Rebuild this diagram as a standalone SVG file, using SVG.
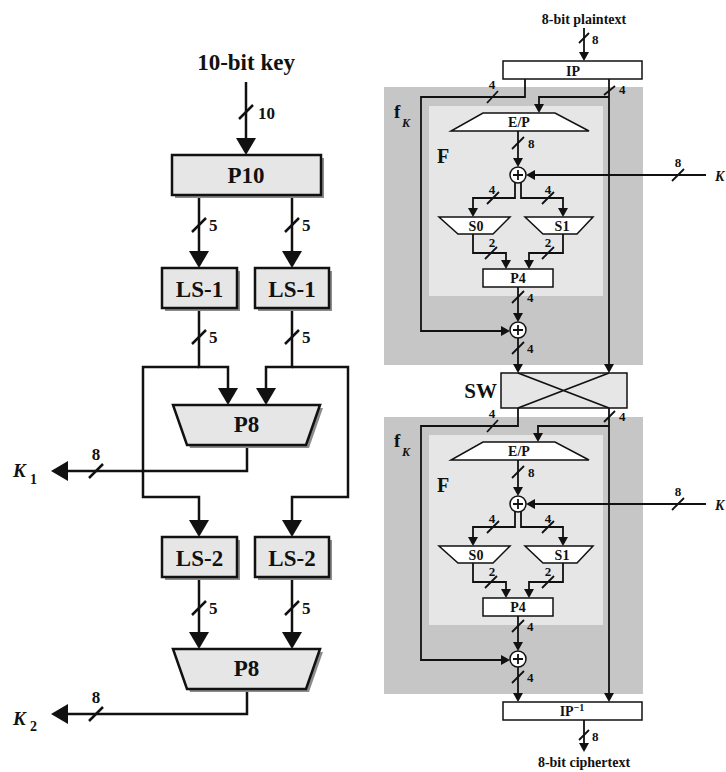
<svg xmlns="http://www.w3.org/2000/svg" width="726" height="772" viewBox="0 0 726 772">
<style>
text{font-family:"Liberation Serif","Times New Roman",serif;font-weight:bold;fill:#111}
.lbox{fill:#e6e6e6;stroke:#111;stroke-width:2.5}
.shadow{fill:#8c8c8c}
.lw{fill:none;stroke:#111;stroke-width:2.5}
.sw{fill:none;stroke:#111;stroke-width:1.8}
.wbox{fill:#fff;stroke:#111;stroke-width:1.5}
.gbox{fill:#e6e6e6;stroke:#111;stroke-width:1.5}
.outer{fill:#c6c6c6}
.inner{fill:#e6e6e6}
.al{marker-end:url(#arrL)}
.as{marker-end:url(#arrS)}
.big{font-size:23px}
.lab{font-size:17px}
.sm{font-size:13px}
.bx{font-size:14px}
.it{font-style:italic}
</style>
<defs>
<marker id="arrL" markerUnits="userSpaceOnUse" markerWidth="17" markerHeight="20" refX="13" refY="10" orient="auto" viewBox="0 0 17 20"><path d="M0,0 L17,10 L0,20 z" fill="#111"/></marker>
<marker id="arrS" markerUnits="userSpaceOnUse" markerWidth="9" markerHeight="10" refX="6" refY="5" orient="auto" viewBox="0 0 9 10"><path d="M0,0 L9,5 L0,10 z" fill="#111"/></marker>
</defs>

<!-- Right side background containers -->
<g id="fK1">
<rect class="outer" x="384" y="87" width="259" height="278"/>
<rect class="inner" x="429" y="106" width="174" height="190"/>
<text x="394" y="118" font-size="19">f</text><text x="402" y="127" class="it" font-size="12">K</text>
<text x="437" y="163" font-size="20">F</text>
</g>
<g id="fK2" transform="translate(0,329)">
<rect class="outer" x="384" y="88" width="259" height="277"/>
<rect class="inner" x="429" y="106" width="174" height="190"/>
<text x="394" y="118" font-size="19">f</text><text x="402" y="127" class="it" font-size="12">K</text>
<text x="437" y="163" font-size="20">F</text>
</g>

<!-- Connectors -->
<g id="connectors">
<!-- left side -->
<path class="lw al" d="M246,82 V151"/>
<path class="lw" d="M239,119 L253,105"/>
<text x="258" y="119" class="lab">10</text>
<path class="lw al" d="M199,195 V264"/>
<path class="lw al" d="M292,195 V264"/>
<path class="lw" d="M192,232 L206,218 M285,232 L299,218"/>
<text x="209" y="231" class="lab">5</text><text x="302" y="231" class="lab">5</text>
<path class="lw al" d="M199,308 V367 H228 V401"/>
<path class="lw al" d="M199,367 H143 V497 H199 V533"/>
<path class="lw al" d="M292,308 V367 H266 V401"/>
<path class="lw al" d="M292,367 H348 V497 H292 V533"/>
<path class="lw" d="M192,344 L206,330 M285,344 L299,330"/>
<text x="209" y="343" class="lab">5</text><text x="302" y="343" class="lab">5</text>
<path class="lw al" d="M247,445 V471 H55"/>
<path class="lw" d="M89,478 L103,464"/>
<text x="96" y="460" class="lab" text-anchor="middle">8</text>
<path class="lw al" d="M199,577 V645"/>
<path class="lw al" d="M292,577 V645"/>
<path class="lw" d="M192,615 L206,601 M285,615 L299,601"/>
<text x="209" y="614" class="lab">5</text><text x="302" y="614" class="lab">5</text>
<path class="lw al" d="M247,689 V714 H55"/>
<path class="lw" d="M89,721 L103,707"/>
<text x="96" y="703" class="lab" text-anchor="middle">8</text>

<!-- right side: input -->
<path class="sw as" d="M584,28 V58"/>
<path class="sw" d="M579,43 L589,33"/>
<text x="592" y="44" class="sm">8</text>
<path class="sw as" d="M525,79 V97 H421 V331 H507"/>
<path class="sw" d="M487,103 L498,91"/>
<text x="492" y="89" class="sm" text-anchor="middle">4</text>
<path class="sw as" d="M609,79 V370"/>
<path class="sw" d="M604,95 L615,86"/>
<text x="619" y="94" class="sm">4</text>
<path class="sw as" d="M609,97 H539 V110"/>

<!-- between SW and block 2 -->
<path class="sw as" d="M518,408 V426 H421 V660 H507"/>
<path class="sw" d="M487,432 L498,420"/>
<text x="492" y="418" class="sm" text-anchor="middle">4</text>
<path class="sw as" d="M609,408 V699"/>
<path class="sw" d="M604,422 L615,411"/>
<text x="619" y="421" class="sm">4</text>
<path class="sw as" d="M609,426 H538 V439"/>

<!-- output -->
<path class="sw as" d="M584,720 V749"/>
<path class="sw" d="M579,740 L589,730"/>
<text x="592" y="741" class="sm">8</text>

<!-- block internals 1 & 2 -->
<g id="conn-block1">
<path class="sw as" d="M518,131 V164"/>
<path class="sw" d="M512,149 L524,137"/>
<text x="528" y="148" class="sm">8</text>
<path class="sw as" d="M706,175 H529"/>
<path class="sw" d="M672,181 L684,169"/>
<text x="678" y="167" class="sm" text-anchor="middle">8</text>
<text x="715" y="181" class="bx it">K</text>
<path class="sw as" d="M515,183 V198 H473 V214"/>
<path class="sw as" d="M521,183 V198 H563 V214"/>
<path class="sw" d="M487,204 L499,192 M542,204 L554,192"/>
<text x="492" y="194" class="sm" text-anchor="middle">4</text>
<text x="548" y="194" class="sm" text-anchor="middle">4</text>
<path class="sw as" d="M473,234 V253 H506 V266"/>
<path class="sw as" d="M563,234 V253 H529 V266"/>
<path class="sw" d="M485,259 L497,247 M542,259 L554,247"/>
<text x="492" y="247" class="sm" text-anchor="middle">2</text>
<text x="548" y="247" class="sm" text-anchor="middle">2</text>
<path class="sw as" d="M518,287 V319"/>
<path class="sw" d="M512,303 L524,291"/>
<text x="527" y="302" class="sm">4</text>
<path class="sw as" d="M518,338 V370"/>
<path class="sw" d="M512,354 L524,342"/>
<text x="527" y="353" class="sm">4</text>
</g>
<g id="conn-block2" transform="translate(0,329)">
<path class="sw as" d="M518,131 V164"/>
<path class="sw" d="M512,149 L524,137"/>
<text x="528" y="148" class="sm">8</text>
<path class="sw as" d="M706,175 H529"/>
<path class="sw" d="M672,181 L684,169"/>
<text x="678" y="167" class="sm" text-anchor="middle">8</text>
<text x="715" y="181" class="bx it">K</text>
<path class="sw as" d="M515,183 V198 H473 V214"/>
<path class="sw as" d="M521,183 V198 H563 V214"/>
<path class="sw" d="M487,204 L499,192 M542,204 L554,192"/>
<text x="492" y="194" class="sm" text-anchor="middle">4</text>
<text x="548" y="194" class="sm" text-anchor="middle">4</text>
<path class="sw as" d="M473,234 V253 H506 V266"/>
<path class="sw as" d="M563,234 V253 H529 V266"/>
<path class="sw" d="M485,259 L497,247 M542,259 L554,247"/>
<text x="492" y="247" class="sm" text-anchor="middle">2</text>
<text x="548" y="247" class="sm" text-anchor="middle">2</text>
<path class="sw as" d="M518,287 V319"/>
<path class="sw" d="M512,303 L524,291"/>
<text x="527" y="302" class="sm">4</text>
<path class="sw as" d="M518,338 V370"/>
<path class="sw" d="M512,354 L524,342"/>
<text x="527" y="353" class="sm">4</text>
</g>
</g>

<!-- Left side nodes -->
<g id="key-label"><text x="246" y="70" class="big" text-anchor="middle">10-bit key</text></g>
<g id="P10">
<rect class="shadow" x="175" y="158" width="149" height="40"/>
<rect class="lbox" x="172" y="155" width="149" height="40"/>
<text x="246" y="183" class="big" text-anchor="middle">P10</text>
</g>
<g id="LS1a">
<rect class="shadow" x="165" y="271" width="75" height="40"/>
<rect class="lbox" x="162" y="268" width="75" height="40"/>
<text x="199.5" y="297" class="big" text-anchor="middle">LS-1</text>
</g>
<g id="LS1b">
<rect class="shadow" x="258" y="271" width="74" height="40"/>
<rect class="lbox" x="255" y="268" width="74" height="40"/>
<text x="292" y="297" class="big" text-anchor="middle">LS-1</text>
</g>
<g id="P8a">
<polygon class="shadow" points="176,408 323,408 309,448 190,448"/>
<polygon class="lbox" points="173,405 320,405 306,445 187,445"/>
<text x="246.5" y="432" class="big" text-anchor="middle">P8</text>
</g>
<g id="K1"><text x="13" y="477" font-size="19" class="it">K</text><text x="30" y="484" font-size="14">1</text></g>
<g id="LS2a">
<rect class="shadow" x="165" y="540" width="75" height="40"/>
<rect class="lbox" x="162" y="537" width="75" height="40"/>
<text x="199.5" y="566" class="big" text-anchor="middle">LS-2</text>
</g>
<g id="LS2b">
<rect class="shadow" x="258" y="540" width="74" height="40"/>
<rect class="lbox" x="255" y="537" width="74" height="40"/>
<text x="292" y="566" class="big" text-anchor="middle">LS-2</text>
</g>
<g id="P8b">
<polygon class="shadow" points="176,652 323,652 309,692 190,692"/>
<polygon class="lbox" points="173,649 320,649 306,689 187,689"/>
<text x="246.5" y="676" class="big" text-anchor="middle">P8</text>
</g>
<g id="K2"><text x="13" y="725" font-size="19" class="it">K</text><text x="30" y="731" font-size="14">2</text></g>

<!-- Right side nodes -->
<g id="plaintext"><text x="584" y="24" font-size="14" text-anchor="middle">8-bit plaintext</text></g>
<g id="IP">
<rect class="wbox" x="503" y="61" width="139" height="18"/>
<text x="573" y="76" class="bx" text-anchor="middle">IP</text>
</g>
<g id="block1">
<g id="EP1"><polygon class="wbox" points="483,113 555,113 589,131 451,131"/><text x="519" y="127" class="bx" text-anchor="middle">E/P</text></g>
<g id="XOR1a"><circle class="wbox" cx="518" cy="175" r="8"/><path class="sw" stroke-width="1.5" d="M513,175 H523 M518,170 V180"/></g>
<g id="S0a"><polygon class="wbox" points="439,217 510,217 493,234 458,234"/><text x="476" y="231" class="bx" text-anchor="middle">S0</text></g>
<g id="S1a"><polygon class="wbox" points="525,217 593,217 577,234 543,234"/><text x="562" y="231" class="bx" text-anchor="middle">S1</text></g>
<g id="P4a"><rect class="wbox" x="483" y="269" width="70" height="18"/><text x="518" y="283" class="bx" text-anchor="middle">P4</text></g>
<g id="XOR2a"><circle class="wbox" cx="518" cy="330" r="8"/><path class="sw" stroke-width="1.5" d="M513,330 H523 M518,325 V335"/></g>
</g>
<g id="SW">
<rect class="gbox" x="501" y="373" width="126" height="35"/>
<path class="sw" stroke-width="1.5" d="M518,373 L609,408 M609,373 L518,408"/>
<text x="497" y="398" font-size="21" text-anchor="end">SW</text>
</g>
<g id="block2" transform="translate(0,329)">
<g id="EP2"><polygon class="wbox" points="483,113 555,113 589,131 451,131"/><text x="519" y="127" class="bx" text-anchor="middle">E/P</text></g>
<g id="XOR1b"><circle class="wbox" cx="518" cy="175" r="8"/><path class="sw" stroke-width="1.5" d="M513,175 H523 M518,170 V180"/></g>
<g id="S0b"><polygon class="wbox" points="439,217 510,217 493,234 458,234"/><text x="476" y="231" class="bx" text-anchor="middle">S0</text></g>
<g id="S1b"><polygon class="wbox" points="525,217 593,217 577,234 543,234"/><text x="562" y="231" class="bx" text-anchor="middle">S1</text></g>
<g id="P4b"><rect class="wbox" x="483" y="269" width="70" height="18"/><text x="518" y="283" class="bx" text-anchor="middle">P4</text></g>
<g id="XOR2b"><circle class="wbox" cx="518" cy="330" r="8"/><path class="sw" stroke-width="1.5" d="M513,330 H523 M518,325 V335"/></g>
</g>
<g id="IPinv">
<rect class="wbox" x="503" y="702" width="139" height="18"/>
<text x="572" y="716" class="bx" text-anchor="middle">IP<tspan font-size="10" dy="-5">−1</tspan></text>
</g>
<g id="ciphertext"><text x="584" y="767" font-size="14" text-anchor="middle">8-bit ciphertext</text></g>
</svg>
